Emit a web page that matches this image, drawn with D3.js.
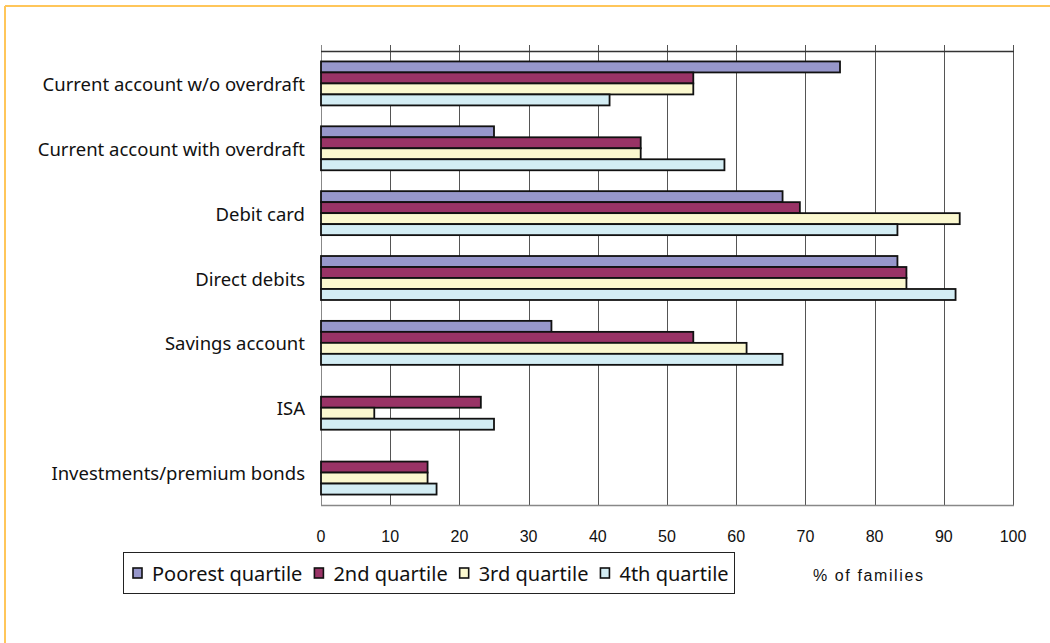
<!DOCTYPE html>
<html>
<head>
<meta charset="utf-8">
<script src="https://cdn.jsdelivr.net/npm/d3@7"></script>
<style>
  html, body { margin: 0; padding: 0; background: #fff; }
  svg { display: block; }
</style>
</head>
<body>
<svg id="chart" width="1050" height="643"></svg>
<script>
// Share of families holding each financial product, by income quartile (%)
const categories = [
  "Current account w/o overdraft",
  "Current account with overdraft",
  "Debit card",
  "Direct debits",
  "Savings account",
  "ISA",
  "Investments/premium bonds"
];
const seriesNames = ["Poorest quartile", "2nd quartile", "3rd quartile", "4th quartile"];
const poorest = [75.0, 25.0, 66.7, 83.3, 33.3, 0, 0];
const second  = [53.8, 46.2, 69.2, 84.6, 53.8, 23.1, 15.4];
const third   = [53.8, 46.2, 92.3, 84.6, 61.5, 7.7, 15.4];
const fourth  = [41.7, 58.3, 83.3, 91.7, 66.7, 25.0, 16.7];
const xTicks = [0, 10, 20, 30, 40, 50, 60, 70, 80, 90, 100];
const colors = ["#9797CB", "#993366", "#FBF8CF", "#D3EDF4"];
const seriesValues = [poorest, second, third, fourth];

const svg = d3.select("#chart");

// outer frame (top and left rules)
svg.append("line").attr("x1", 5).attr("x2", 1050).attr("y1", 6).attr("y2", 6)
  .attr("stroke", "#FFC65A").attr("stroke-width", 2);
svg.append("line").attr("x1", 5).attr("x2", 5).attr("y1", 6).attr("y2", 643)
  .attr("stroke", "#FFC65A").attr("stroke-width", 2);

const plot = { left: 321, right: 1013, top: 51, bottom: 505 };

const x = d3.scaleLinear().domain([0, 100]).range([plot.left, plot.right]);
const y = d3.scaleBand().domain(categories).range([plot.top, plot.bottom]).padding(0);
const ySub = d3.scaleBand().domain(seriesNames).range([0, y.bandwidth()])
  .paddingInner(0).paddingOuter(0.95);

// vertical gridlines with short ticks above the top rule
svg.append("g").selectAll("line").data(xTicks).join("line")
  .attr("x1", d => Math.round(x(d)) + 0.5).attr("x2", d => Math.round(x(d)) + 0.5)
  .attr("y1", plot.top - 6).attr("y2", plot.bottom)
  .attr("stroke", d => d === 0 ? "#888" : "#555").attr("stroke-width", 1);

// top rule
svg.append("line").attr("x1", plot.left).attr("x2", plot.right + 1)
  .attr("y1", plot.top + 0.5).attr("y2", plot.top + 0.5)
  .attr("stroke", "#333").attr("stroke-width", 1.5);
// bottom rule
svg.append("line").attr("x1", plot.left).attr("x2", plot.right + 1)
  .attr("y1", plot.bottom + 0.5).attr("y2", plot.bottom + 0.5)
  .attr("stroke", "#888").attr("stroke-width", 1.5);

// bars
const bars = [];
categories.forEach((c, i) => {
  seriesNames.forEach((s, j) => {
    bars.push({ cat: c, series: s, v: seriesValues[j][i], color: colors[j] });
  });
});
svg.append("g").selectAll("rect").data(bars.filter(d => d.v > 0)).join("rect")
  .attr("x", x(0))
  .attr("y", d => y(d.cat) + ySub(d.series))
  .attr("width", d => x(d.v) - x(0))
  .attr("height", ySub.bandwidth())
  .attr("fill", d => d.color)
  .attr("stroke", "#111").attr("stroke-width", 1.8);

// category labels
const labelFont = "'Noto Sans', 'Open Sans', sans-serif";
svg.append("g").selectAll("text").data(categories).join("text")
  .attr("x", 305)
  .attr("y", d => y(d) + y.bandwidth() / 2)
  .attr("text-anchor", "end").attr("dominant-baseline", "central")
  .attr("font-family", labelFont).attr("font-size", 18.5).attr("fill", "#111")
  .text(d => d);

// x tick labels
const narrowFont = "'Liberation Sans Narrow', 'Arial Narrow', 'Liberation Sans', sans-serif";
svg.append("g").selectAll("text").data(xTicks).join("text")
  .attr("x", d => x(d))
  .attr("y", 536)
  .attr("text-anchor", "middle").attr("dominant-baseline", "central")
  .attr("font-family", narrowFont).attr("font-stretch", "condensed")
  .attr("font-size", 16).attr("fill", "#111")
  .text(d => d);

// axis title
svg.append("text").attr("x", 813).attr("y", 575)
  .attr("dominant-baseline", "central")
  .attr("font-family", narrowFont).attr("font-stretch", "condensed")
  .attr("font-size", 16).attr("letter-spacing", 1.6).attr("fill", "#111")
  .text("% of families");

// legend
const legend = svg.append("g");
const lg = { x: 123, y: 552, w: 611, h: 41 };
legend.append("rect").attr("x", lg.x + 0.5).attr("y", lg.y + 0.5)
  .attr("width", lg.w).attr("height", lg.h)
  .attr("fill", "#fff").attr("stroke", "#222").attr("stroke-width", 1);
let cx = lg.x + 10;
const midY = lg.y + 21;
seriesNames.forEach((s, j) => {
  legend.append("rect").attr("x", cx).attr("y", midY - 5)
    .attr("width", 9).attr("height", 10)
    .attr("fill", colors[j]).attr("stroke", "#111").attr("stroke-width", 1.6);
  const t = legend.append("text").attr("x", cx + 19).attr("y", midY)
    .attr("dominant-baseline", "central")
    .attr("font-family", labelFont).attr("font-size", 20).attr("fill", "#111")
    .text(s);
  cx += 19 + t.node().getComputedTextLength() + 12;
});
</script>
</body>
</html>
